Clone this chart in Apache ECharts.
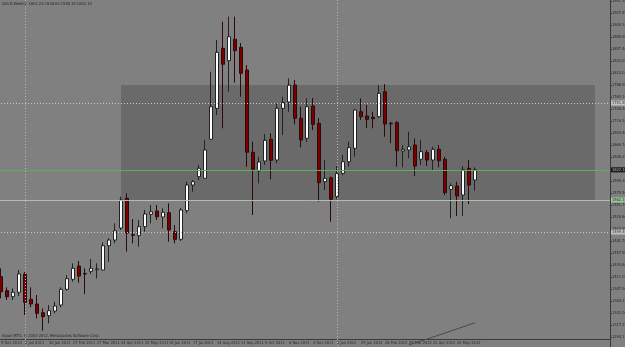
<!DOCTYPE html>
<html><head><meta charset="utf-8">
<script src="https://cdn.jsdelivr.net/npm/echarts@6/dist/echarts.min.js"></script>
<style>html,body{margin:0;padding:0;background:#808080;}#c{width:625px;height:347px;}</style>
</head><body><div id="c"></div>
<script>
// weekly candles, index 0 = week of 5 Dec 2010
const opens  = [1412.1,1384.7,1373.0,1381.6,1417.4,1367.9,1358.7,1341.7,1335.8,1344.9,1356.7,1387.4,1407.0,1433.0,1418.3,1422.6,1425.8,1425.2,1472.7,1483.8,1507.3,1565.4,1494.2,1492.3,1509.9,1534.1,1540.6,1528.8,1537.2,1500.1,1485.2,1541.2,1591.4,1607.7,1604.5,1680.8,1741.4,1858.8,1834.5,1876.4,1860.7,1816.4,1655.4,1618.8,1638.4,1680.8,1640.3,1741.4,1753.8,1787.0,1721.9,1682.8,1745.9,1712.1,1597.9,1605.7,1568.5,1614.2,1636.9,1663.2,1734.8,1726.4,1723.8,1725.0,1773.9,1712.1,1713.3,1657.9,1659.9,1669.7,1641.7,1654.6,1640.3,1661.2,1641.7,1583.0,1589.5,1571.9,1624.1,1601.2];
const closes = [1382.7,1373.0,1381.6,1417.4,1362.0,1358.7,1340.5,1333.9,1345.6,1354.8,1387.4,1408.2,1428.5,1413.4,1417.4,1428.5,1427.2,1472.7,1483.8,1502.0,1562.1,1497.5,1493.0,1509.9,1534.7,1539.2,1529.4,1538.0,1503.4,1485.2,1542.5,1591.4,1597.9,1624.1,1659.9,1744.6,1850.9,1827.5,1881.5,1854.1,1809.9,1655.4,1622.1,1636.4,1678.8,1639.7,1741.4,1752.8,1786.6,1721.9,1679.4,1744.6,1710.1,1595.9,1604.5,1563.5,1614.2,1636.9,1664.4,1738.1,1725.0,1719.9,1721.1,1770.8,1710.7,1711.0,1658.5,1661.2,1666.3,1628.6,1656.6,1640.3,1661.2,1638.9,1576.4,1590.0,1569.9,1622.1,1591.4,1622.1];
const highs  = [1428.5,1391.3,1389.4,1425.2,1421.3,1391.3,1376.3,1350.3,1356.7,1363.2,1391.3,1415.4,1438.3,1442.8,1428.5,1446.7,1438.3,1479.0,1487.2,1516.5,1568.6,1575.2,1524.9,1523.0,1542.5,1552.3,1552.3,1545.8,1555.6,1513.2,1546.4,1597.9,1601.2,1630.5,1679.4,1813.0,1875.0,1910.8,1920.6,1920.6,1869.2,1826.1,1676.1,1646.8,1691.2,1692.5,1751.2,1764.1,1800.1,1796.8,1744.6,1761.0,1761.6,1722.5,1640.3,1608.0,1628.6,1650.1,1676.1,1740.0,1761.0,1747.9,1734.8,1787.0,1788.9,1715.0,1716.6,1669.7,1695.7,1682.7,1679.4,1659.9,1666.3,1669.7,1646.2,1594.7,1597.9,1628.6,1640.3,1626.0];
const lows   = [1369.8,1366.5,1366.5,1374.3,1337.2,1352.2,1330.7,1306.5,1320.9,1340.5,1352.2,1384.7,1402.3,1400.3,1378.2,1417.4,1408.9,1424.6,1441.4,1477.4,1503.4,1461.0,1477.4,1470.7,1500.1,1516.5,1523.0,1506.7,1480.5,1477.4,1481.9,1536.1,1578.3,1601.2,1604.5,1679.4,1728.3,1702.3,1773.9,1791.5,1764.1,1627.2,1532.8,1594.7,1630.5,1602.6,1634.0,1689.2,1734.8,1710.1,1665.2,1675.5,1698.9,1558.7,1581.7,1519.6,1563.5,1610.4,1627.2,1646.8,1718.6,1702.9,1702.3,1722.5,1685.9,1673.0,1627.2,1626.0,1643.6,1609.0,1630.5,1628.6,1620.8,1626.0,1571.9,1526.3,1530.8,1530.8,1554.3,1580.3];
// x tick labels, every 4th week starting at index 0
const xTickLabels = ['5 Dec 2010','2 Jan 2011','30 Jan 2011','27 Feb 2011','27 Mar 2011','24 Apr 2011','22 May 2011','19 Jun 2011','17 Jul 2011','14 Aug 2011','11 Sep 2011','9 Oct 2011','6 Nov 2011','4 Dec 2011','1 Jan 2012','29 Jan 2012','26 Feb 2012','25 Mar 2012','22 Apr 2012','20 May 2012'];
// y tick labels, bottom to top
const yTickLabels = ['1294.15','1317.25','1341.00','1364.15','1387.90','1411.05','1434.80','1457.90','1481.70','1504.80','1528.60','1551.70','1575.50','1599.30','1622.40','1646.25','1669.70','1693.50','1716.35','1740.20','1763.10','1786.90','1810.05','1833.05','1857.40','1880.90','1904.35','1927.85','1951.30'];
const yBase = 1294.15, yStep = 23.47;
// horizontal levels
const greenLevel = 1621.0, bidLevel = 1622.1, supportLevel = 1562.1, dotHigh = 1751.8, dotLow = 1499.4;
const boxTop = 1787.0, boxBottom = 1562.1, boxFrom = 20, boxTo = 99;
const separators = [4, 56];
// bottom indicator line (index, value)
const indIdx = [68, 71, 74, 77, 79];
const indVal = [1279, 1290, 1302, 1314, 1322];

const N = 102;
const cats = []; for (let i = 0; i < N; i++) cats.push('c' + i);
const candles = opens.map((o, i) => [o, closes[i], lows[i], highs[i]]);
const indData = cats.map(() => null);
indIdx.forEach((ix, k) => { indData[ix] = indVal[k]; });

const FONT = "'Liberation Sans Narrow','DejaVu Sans Condensed','Liberation Sans',sans-serif";
const small = { fontFamily: FONT, fontSize: 4, color: '#262626' };
const chart = echarts.init(document.getElementById('c'), null, { renderer: 'canvas' });
chart.setOption({
  backgroundColor: '#808080',
  animation: false,
  title: [
    { text: 'GOLD,Weekly  1601.20 1626.00 1580.30 1622.10', left: 2, top: 2, padding: 0, textStyle: Object.assign({ fontWeight: 'normal' }, small) },
    { text: 'Alpari MT4, \u00a9 2001-2012, MetaQuotes Software Corp.', left: 2, top: 334, padding: 0, textStyle: Object.assign({ fontWeight: 'normal' }, small) }
  ],
  grid: { left: -2, width: 612, top: -11, height: 360, containLabel: false, outerBoundsMode: 'none' },
  xAxis: {
    type: 'category', data: cats, boundaryGap: true, offset: -10,
    axisLine: { show: true, onZero: false, lineStyle: { color: '#3a3a3a', width: 1 } },
    axisTick: { show: false },
    splitLine: { show: false },
    axisLabel: {
      interval: (idx) => idx % 4 === 0 && idx / 4 < xTickLabels.length,
      formatter: (v, idx) => xTickLabels[idx / 4] || '',
      align: 'left', margin: 2, hideOverlap: false, fontFamily: FONT, fontSize: 4, color: '#262626'
    }
  },
  yAxis: {
    type: 'value', position: 'right', scale: true,
    min: yBase - yStep, max: yBase + 29 * yStep, interval: yStep,
    axisLine: { show: true, lineStyle: { color: '#3a3a3a', width: 1 } },
    axisTick: { show: true, length: 2, lineStyle: { color: '#3a3a3a' } },
    splitLine: { show: false },
    axisLabel: {
      showMinLabel: false, showMaxLabel: false, margin: 2, align: 'left',
      formatter: (v) => { const k = Math.round((v - yBase) / yStep); return yTickLabels[k] || ''; },
      fontFamily: FONT, fontSize: 4, color: '#262626'
    }
  },
  series: [
    {
      type: 'candlestick', data: candles, barWidth: 4,
      itemStyle: { color: '#ffffff', color0: '#7a0000', borderColor: '#222222', borderColor0: '#2b0a0a', borderWidth: 1 },
      markArea: {
        silent: true,
        itemStyle: { color: '#6a6a6a' },
        data: [[{ xAxis: 'c' + boxFrom, yAxis: boxTop }, { xAxis: 'c' + boxTo, yAxis: boxBottom }]]
      },
      markLine: {
        silent: true, symbol: 'none', animation: false,
        label: { position: 'end', distance: 1, fontFamily: FONT, fontSize: 4, padding: [1, 1, 0, 1] },
        data: [
          { yAxis: dotHigh, lineStyle: { color: '#c8c8c8', type: [1, 2], width: 1 }, label: { formatter: dotHigh.toFixed(2), backgroundColor: '#c0c0c0', color: '#404040' } },
          { yAxis: dotLow, lineStyle: { color: '#c8c8c8', type: [1, 2], width: 1 }, label: { formatter: dotLow.toFixed(2), backgroundColor: '#c0c0c0', color: '#404040' } },
          { yAxis: supportLevel, lineStyle: { color: '#a9c2a9', type: 'solid', width: 1 }, label: { formatter: supportLevel.toFixed(2), backgroundColor: '#98c898', color: '#2a2a2a' } },
          { yAxis: greenLevel, lineStyle: { color: '#5fae5f', type: 'solid', width: 1 }, label: { formatter: bidLevel.toFixed(2), backgroundColor: '#1a1a1a', color: '#bdbdbd' } },
          { xAxis: 'c' + separators[0], lineStyle: { color: '#b8b8b8', type: [1, 2], width: 1 }, label: { show: false } },
          { xAxis: 'c' + separators[1], lineStyle: { color: '#b8b8b8', type: [1, 2], width: 1 }, label: { show: false } }
        ]
      }
    },
    {
      type: 'line', data: indData, connectNulls: true, symbol: 'none', silent: true,
      lineStyle: { color: '#4a4a4a', width: 1 }
    }
  ]
});
</script></body></html>
